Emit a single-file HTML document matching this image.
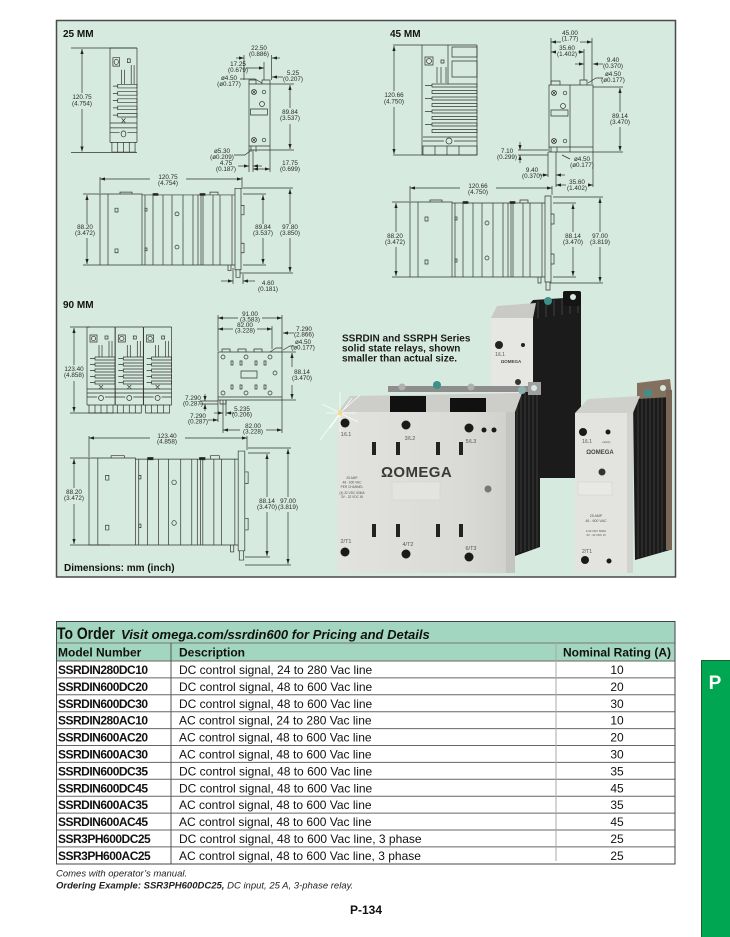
<!DOCTYPE html>
<html><head><meta charset="utf-8">
<style>
html,body{margin:0;padding:0;background:#fff;}
body{width:730px;height:937px;position:relative;overflow:hidden;}
svg{position:absolute;left:0;top:0;font-family:"Liberation Sans",Arial,sans-serif;}
.d{font-size:6.3px;fill:#2a2a2a;text-anchor:middle;}
.h{font-size:10px;font-weight:bold;fill:#111;}
.ln line,.ln path,.ln rect,.ln circle{vector-effect:non-scaling-stroke;}
#sv *,#fm *{vector-effect:non-scaling-stroke;}
.m{font-size:12px;font-weight:bold;fill:#111;letter-spacing:-0.5px;}
.s{font-size:12px;fill:#111;}
.r{font-size:12px;fill:#111;text-anchor:middle;}
.ph{font-size:5px;fill:#555;text-anchor:middle;}
</style></head><body>
<svg width="730" height="937" viewBox="0 0 730 937">
<defs>
<marker id="ar" markerUnits="userSpaceOnUse" markerWidth="6" markerHeight="4" refX="5" refY="2" orient="auto-start-reverse" viewBox="0 0 5 4"><path d="M0,0.4 L5,2 L0,3.6z" fill="#222"/></marker>
<linearGradient id="gface" x1="0" y1="0" x2="1" y2="0">
<stop offset="0" stop-color="#e2e2de"/><stop offset="0.7" stop-color="#dadad6"/><stop offset="1" stop-color="#cfcfcb"/>
</linearGradient>
<g id="sv" fill="none" stroke="#333" stroke-width="0.7">
<path d="M0,0 H42 V75 H0 Z M8,0 V75 M20,0 V-2 H32 V0 M42,1 H135 M42,75 H135 M45,1 V75 M53,1 V75 M63,1 V75 M72,1 V75 M83,1 V75 M93,1 V75 M98,1 V75 M101,1 V75 M103,1 V75 M113,1 V75 M120,1 V75 M132,1 V75 M135,-6 V80 H141 V-6 Z M141,12 h3 v10 h-3 M141,52 h3 v10 h-3 M136,80 v8 h4 v-8 M128,75 v6 h3 v-6 M110,1 V-2 H118 V1"/>
<rect x="15" y="15" width="3" height="4"/>
<rect x="15" y="58" width="3" height="4"/>
<circle cx="77" cy="21" r="2"/><circle cx="77" cy="56" r="2"/>
<path d="M45,15 h2 v3 h-2z M45,57 h2 v3 h-2z"/>
<rect x="53" y="-0.5" width="5" height="2" fill="#222"/><rect x="100" y="-0.5" width="5" height="2" fill="#222"/>
</g>
<g id="fm" fill="none" stroke="#333" stroke-width="0.7">
<path d="M0,0 H28 M0,0 V78 M28,0 V78"/>
<rect x="3" y="8" width="7" height="7"/><circle cx="6.5" cy="11.5" r="2.2"/>
<rect x="18" y="9" width="3" height="3"/>
<path d="M12,18 V30 M15,18 V30 M22,14 V30 M25,14 V30"/>
<path d="M8,30 h20 v3 h-20z M8,36 h20 v3 h-20z M8,42 h20 v3 h-20z M8,48 h20 v3 h-20z M8,54 h20 v3 h-20z"/>
<path d="M3,31.5 H8 M3,37.5 H8 M3,43.5 H8 M3,49.5 H8 M3,55.5 H8 M12,58 l4,4 M16,58 l-4,4"/>
<path d="M0,62 H28 M0,66 H28 M0,70 H10 M18,70 H28"/>
<circle cx="14" cy="71" r="2.5"/>
<path d="M0,78 H28 M2,78 V86 H26 V78 M8,78 V86 M14,78 V86 M20,78 V86"/>
</g>
</defs>

<!-- panel -->
<rect x="56.5" y="20.5" width="619" height="556.5" fill="#d6eadf" stroke="#4a4a4a" stroke-width="1.3"/>

<g class="ln" fill="none" stroke="#333" stroke-width="0.7">
<!-- ===== 25 MM ===== -->
<use href="#fm" transform="translate(110,48) scale(0.964,1.21)"/>
<line x1="71" y1="48" x2="137" y2="48"/><line x1="71" y1="152.5" x2="137" y2="152.5"/>
<line x1="82" y1="49" x2="82" y2="93" marker-start="url(#ar)"/><line x1="82" y1="109" x2="82" y2="151.5" marker-end="url(#ar)"/>

<rect x="249" y="84" width="21" height="66"/>
<path d="M249,84 V80 H256 V84 M262,84 V80 H270 V84"/>
<circle cx="254" cy="92" r="2.5"/><path d="M252.3,90.3 l3.4,3.4 M255.7,90.3 l-3.4,3.4"/>
<circle cx="264" cy="92" r="1.8"/><circle cx="262" cy="104" r="2.5"/>
<rect x="250.5" y="109" width="17" height="6"/>
<circle cx="254" cy="140" r="2.5"/><path d="M252.3,138.3 l3.4,3.4 M255.7,138.3 l-3.4,3.4"/>
<circle cx="264" cy="140" r="1.8"/>
<path d="M249,146 H270 M251,146 V152 M256,146 V152"/>
<line x1="236" y1="58" x2="244" y2="58" marker-end="url(#ar)"/><line x1="280" y1="58" x2="272" y2="58" marker-end="url(#ar)"/>
<line x1="244" y1="55" x2="244" y2="80"/><line x1="271.5" y1="55" x2="271.5" y2="80"/>
<line x1="246" y1="68" x2="264" y2="68" marker-end="url(#ar)"/><line x1="264" y1="62" x2="264" y2="80"/>
<path d="M240,79 H255 L262,83"/>
<line x1="283" y1="77" x2="272" y2="77" marker-end="url(#ar)"/>
<line x1="270" y1="84" x2="294" y2="84"/><line x1="270" y1="150" x2="294" y2="150"/>
<line x1="290" y1="85" x2="290" y2="108" marker-start="url(#ar)"/><line x1="290" y1="124" x2="290" y2="149" marker-end="url(#ar)"/>
<path d="M234,155 H245 L250,151"/>
<line x1="249" y1="150" x2="249" y2="172"/><line x1="253" y1="150" x2="253" y2="172"/><line x1="270" y1="150" x2="270" y2="172"/>
<line x1="238" y1="166" x2="249" y2="166" marker-end="url(#ar)"/><line x1="262" y1="166" x2="253" y2="166" marker-end="url(#ar)"/>
<line x1="253" y1="169" x2="270" y2="169" marker-start="url(#ar)" marker-end="url(#ar)"/>

<use href="#sv" transform="translate(100,194) scale(1,0.947)"/>
<line x1="100" y1="179" x2="150" y2="179" marker-start="url(#ar)"/><line x1="186" y1="179" x2="242" y2="179" marker-end="url(#ar)"/>
<line x1="100" y1="177" x2="100" y2="193"/><line x1="242" y1="177" x2="242" y2="189"/>
<line x1="87" y1="195" x2="87" y2="224" marker-start="url(#ar)"/><line x1="87" y1="238" x2="87" y2="264" marker-end="url(#ar)"/>
<line x1="83" y1="194" x2="100" y2="194"/><line x1="83" y1="265" x2="100" y2="265"/>
<line x1="243" y1="188" x2="293" y2="188"/><line x1="243" y1="194" x2="266" y2="194"/>
<line x1="243" y1="265" x2="266" y2="265"/><line x1="240" y1="273" x2="293" y2="273"/>
<line x1="263" y1="195" x2="263" y2="224" marker-start="url(#ar)"/><line x1="263" y1="238" x2="263" y2="264" marker-end="url(#ar)"/>
<line x1="290" y1="189" x2="290" y2="224" marker-start="url(#ar)"/><line x1="290" y1="238" x2="290" y2="272" marker-end="url(#ar)"/>
<line x1="233" y1="268" x2="233" y2="284"/><line x1="243" y1="274" x2="243" y2="284"/>
<line x1="221" y1="281" x2="233" y2="281" marker-end="url(#ar)"/><line x1="255" y1="281" x2="243" y2="281" marker-end="url(#ar)"/>

<!-- ===== 45 MM ===== -->
<line x1="393" y1="45" x2="477" y2="45"/><line x1="393" y1="155" x2="477" y2="155"/>
<line x1="394" y1="46" x2="394" y2="91" marker-start="url(#ar)"/><line x1="394" y1="107" x2="394" y2="154" marker-end="url(#ar)"/>
<path d="M422,45 V155 M448,45 V84 M477,45 V155"/>
<rect x="452" y="47" width="25" height="10"/><rect x="452" y="61" width="25" height="16"/>
<rect x="425" y="57" width="8" height="8"/><circle cx="429" cy="61" r="2.5"/><rect x="441" y="60" width="3" height="3"/>
<path d="M437,67 V83 M441,67 V83 M446,67 V83"/>
<path d="M432,84 h45 v3 h-45z M432,90.5 h45 v3 h-45z M432,97 h45 v3 h-45z M432,103.5 h45 v3 h-45z M432,110 h45 v3 h-45z M432,116.5 h45 v3 h-45z M432,123 h45 v3 h-45z M432,129.5 h45 v3 h-45z"/>
<path d="M425,85.5 H432 M425,98.5 H432 M425,111.5 H432 M425,124.5 H432"/>
<path d="M423,137 H477 M423,141 H444 M454,141 H477"/><circle cx="449" cy="141" r="3"/>
<rect x="423" y="146" width="54" height="9"/><path d="M435,146 V155 M447,146 V155 M459,146 V155"/>

<rect x="549" y="85" width="44" height="67"/><line x1="570" y1="85" x2="570" y2="152"/>
<path d="M551,85 V81 H560 V85 M580,85 V80 H587 V85"/>
<circle cx="554" cy="93" r="2.5"/><path d="M552.3,91.3 l3.4,3.4 M555.7,91.3 l-3.4,3.4"/><circle cx="565" cy="93" r="1.8"/>
<circle cx="563" cy="106" r="2.5"/><rect x="551" y="110" width="17" height="6"/>
<circle cx="554" cy="141" r="2.5"/><path d="M552.3,139.3 l3.4,3.4 M555.7,139.3 l-3.4,3.4"/><circle cx="565" cy="141" r="1.8"/>
<path d="M549,147 H593 M551,147 V152 M557,147 V152"/>
<line x1="551" y1="42" x2="561" y2="42" marker-start="url(#ar)"/><line x1="580" y1="42" x2="592" y2="42" marker-end="url(#ar)"/>
<line x1="551" y1="38" x2="551" y2="84"/><line x1="592" y1="38" x2="592" y2="84"/>
<line x1="551" y1="52" x2="556" y2="52" marker-start="url(#ar)"/><line x1="578" y1="52" x2="584" y2="52" marker-end="url(#ar)"/>
<line x1="584" y1="49" x2="584" y2="80"/>
<line x1="603" y1="64" x2="593" y2="64" marker-end="url(#ar)"/><line x1="575" y1="64" x2="584" y2="64" marker-end="url(#ar)"/>
<path d="M603,78 H596 L588,83"/>
<line x1="593" y1="87" x2="623" y2="87"/><line x1="593" y1="152" x2="623" y2="152"/>
<line x1="620" y1="88" x2="620" y2="112" marker-start="url(#ar)"/><line x1="620" y1="127" x2="620" y2="151" marker-end="url(#ar)"/>
<line x1="518" y1="150" x2="548" y2="150"/><line x1="518" y1="155" x2="548" y2="155"/>
<line x1="520" y1="142" x2="520" y2="150" marker-end="url(#ar)"/><line x1="520" y1="163" x2="520" y2="155" marker-end="url(#ar)"/>
<path d="M570,159 L562,155"/>
<line x1="548" y1="152" x2="548" y2="177"/><line x1="556" y1="152" x2="556" y2="187"/><line x1="593" y1="152" x2="593" y2="187"/>
<line x1="539" y1="175" x2="548" y2="175" marker-end="url(#ar)"/><line x1="565" y1="175" x2="556" y2="175" marker-end="url(#ar)"/>
<line x1="556" y1="185" x2="566" y2="185" marker-start="url(#ar)"/><line x1="588" y1="185" x2="593" y2="185" marker-end="url(#ar)"/>

<use href="#sv" transform="translate(410,202)"/>
<line x1="410" y1="188" x2="460" y2="188" marker-start="url(#ar)"/><line x1="496" y1="188" x2="552" y2="188" marker-end="url(#ar)"/>
<line x1="410" y1="186" x2="410" y2="201"/><line x1="552" y1="186" x2="552" y2="195"/>
<line x1="396" y1="203" x2="396" y2="232" marker-start="url(#ar)"/><line x1="396" y1="247" x2="396" y2="276" marker-end="url(#ar)"/>
<line x1="392" y1="202" x2="410" y2="202"/><line x1="392" y1="277" x2="410" y2="277"/>
<line x1="553" y1="197" x2="603" y2="197"/><line x1="553" y1="203" x2="576" y2="203"/>
<line x1="553" y1="277" x2="576" y2="277"/><line x1="550" y1="283" x2="603" y2="283"/>
<line x1="573" y1="204" x2="573" y2="232" marker-start="url(#ar)"/><line x1="573" y1="247" x2="573" y2="276" marker-end="url(#ar)"/>
<line x1="600" y1="198" x2="600" y2="232" marker-start="url(#ar)"/><line x1="600" y1="247" x2="600" y2="282" marker-end="url(#ar)"/>

<!-- ===== 90 MM ===== -->
<use href="#fm" transform="translate(87,327)"/>
<use href="#fm" transform="translate(115.3,327)"/>
<use href="#fm" transform="translate(143.6,327)"/>
<line x1="70" y1="327" x2="90" y2="327"/><line x1="70" y1="413" x2="118" y2="413"/>
<line x1="74" y1="328" x2="74" y2="365" marker-start="url(#ar)"/><line x1="74" y1="381" x2="74" y2="412" marker-end="url(#ar)"/>

<rect x="218" y="352" width="64" height="48"/>
<path d="M222,352 V349 H230 V352 M238,352 V349 H246 V352 M254,352 V349 H262 V352 M270,352 L276,348 H282 V352"/>
<circle cx="223" cy="357" r="2"/><circle cx="246" cy="357" r="2"/><circle cx="270" cy="357" r="2"/>
<rect x="231" y="361" width="2" height="4"/><rect x="240" y="361" width="2" height="4"/><rect x="255" y="361" width="2" height="4"/><rect x="264" y="361" width="2" height="4"/>
<rect x="241" y="371" width="16" height="7"/><circle cx="275" cy="373" r="2"/>
<rect x="231" y="385" width="2" height="4"/><rect x="240" y="385" width="2" height="4"/><rect x="255" y="385" width="2" height="4"/><rect x="264" y="385" width="2" height="4"/>
<circle cx="223" cy="393" r="2"/><circle cx="246" cy="393" r="2"/><circle cx="270" cy="393" r="2"/>
<path d="M218,397 H282 M220,400 V404 H226 V400"/>
<line x1="218" y1="318" x2="238" y2="318" marker-start="url(#ar)"/><line x1="262" y1="318" x2="282" y2="318" marker-end="url(#ar)"/>
<line x1="218" y1="315" x2="218" y2="351"/><line x1="282" y1="315" x2="282" y2="348"/>
<line x1="218" y1="329" x2="233" y2="329" marker-start="url(#ar)"/><line x1="257" y1="329" x2="272" y2="329" marker-end="url(#ar)"/>
<line x1="272" y1="326" x2="272" y2="349"/>
<line x1="294" y1="333" x2="283" y2="333" marker-end="url(#ar)"/>
<path d="M294,346 H290 L283,350"/>
<line x1="282" y1="352" x2="296" y2="352"/><line x1="282" y1="400" x2="296" y2="400"/>
<line x1="292" y1="353" x2="292" y2="367" marker-start="url(#ar)"/><line x1="292" y1="385" x2="292" y2="399" marker-end="url(#ar)"/>
<line x1="200" y1="401" x2="218" y2="401"/><line x1="200" y1="404" x2="218" y2="404"/>
<line x1="205" y1="394" x2="205" y2="401" marker-end="url(#ar)"/><line x1="205" y1="411" x2="205" y2="404" marker-end="url(#ar)"/>
<line x1="218" y1="400" x2="218" y2="422"/><line x1="223" y1="400" x2="223" y2="433"/><line x1="226" y1="400" x2="226" y2="416"/>
<line x1="214" y1="413" x2="223" y2="413" marker-end="url(#ar)"/><line x1="234" y1="413" x2="226" y2="413" marker-end="url(#ar)"/>
<line x1="208" y1="420" x2="218" y2="420" marker-end="url(#ar)"/>
<line x1="282" y1="400" x2="282" y2="433"/>
<line x1="223" y1="430" x2="240" y2="430" marker-start="url(#ar)"/><line x1="266" y1="430" x2="282" y2="430" marker-end="url(#ar)"/>

<use href="#sv" transform="translate(89,458) scale(1.105,1.16)"/>
<line x1="89" y1="438" x2="150" y2="438" marker-start="url(#ar)"/><line x1="185" y1="438" x2="247" y2="438" marker-end="url(#ar)"/>
<line x1="89" y1="436" x2="89" y2="457"/><line x1="247" y1="436" x2="247" y2="450"/>
<line x1="74" y1="459" x2="74" y2="488" marker-start="url(#ar)"/><line x1="74" y1="504" x2="74" y2="544" marker-end="url(#ar)"/>
<line x1="70" y1="458" x2="89" y2="458"/><line x1="70" y1="545" x2="110" y2="545"/>
<line x1="248" y1="448" x2="291" y2="448"/><line x1="248" y1="453" x2="270" y2="453"/>
<line x1="245" y1="557" x2="270" y2="557"/><line x1="245" y1="565" x2="291" y2="565"/>
<line x1="267" y1="454" x2="267" y2="497" marker-start="url(#ar)"/><line x1="267" y1="512" x2="267" y2="556" marker-end="url(#ar)"/>
<line x1="288" y1="449" x2="288" y2="497" marker-start="url(#ar)"/><line x1="288" y1="512" x2="288" y2="564" marker-end="url(#ar)"/>
</g>

<!-- dimension labels -->
<g>
<text class="h" x="63" y="37">25 MM</text>
<text class="h" x="390" y="37">45 MM</text>
<text class="h" x="63" y="308">90 MM</text>
<text class="d" x="82" y="99">120.75</text><text class="d" x="82" y="105.5">(4.754)</text>
<text class="d" x="259" y="50">22.50</text><text class="d" x="259" y="56">(0.886)</text>
<text class="d" x="238" y="66">17.25</text><text class="d" x="238" y="72">(0.679)</text>
<text class="d" x="229" y="80">ø4.50</text><text class="d" x="229" y="86">(ø0.177)</text>
<text class="d" x="293" y="75">5.25</text><text class="d" x="293" y="81">(0.207)</text>
<text class="d" x="290" y="114">89.84</text><text class="d" x="290" y="120">(3.537)</text>
<text class="d" x="222" y="153">ø5.30</text><text class="d" x="222" y="159">(ø0.209)</text>
<text class="d" x="226" y="165">4.75</text><text class="d" x="226" y="171">(0.187)</text>
<text class="d" x="290" y="165">17.75</text><text class="d" x="290" y="171">(0.699)</text>
<text class="d" x="168" y="179">120.75</text><text class="d" x="168" y="185">(4.754)</text>
<text class="d" x="85" y="229">88.20</text><text class="d" x="85" y="235">(3.472)</text>
<text class="d" x="263" y="229">89.84</text><text class="d" x="263" y="235">(3.537)</text>
<text class="d" x="290" y="229">97.80</text><text class="d" x="290" y="235">(3.850)</text>
<text class="d" x="268" y="285">4.60</text><text class="d" x="268" y="291">(0.181)</text>

<text class="d" x="394" y="97">120.66</text><text class="d" x="394" y="103.5">(4.750)</text>
<text class="d" x="570" y="35">45.00</text><text class="d" x="570" y="40.5">(1.77)</text>
<text class="d" x="567" y="50">35.60</text><text class="d" x="567" y="56">(1.402)</text>
<text class="d" x="613" y="62">9.40</text><text class="d" x="613" y="68">(0.370)</text>
<text class="d" x="613" y="76">ø4.50</text><text class="d" x="613" y="82">(ø0.177)</text>
<text class="d" x="620" y="118">89.14</text><text class="d" x="620" y="124">(3.470)</text>
<text class="d" x="507" y="153">7.10</text><text class="d" x="507" y="159">(0.299)</text>
<text class="d" x="582" y="161">ø4.50</text><text class="d" x="582" y="167">(ø0.177)</text>
<text class="d" x="532" y="172">9.40</text><text class="d" x="532" y="178">(0.370)</text>
<text class="d" x="577" y="184">35.60</text><text class="d" x="577" y="190">(1.402)</text>
<text class="d" x="478" y="188">120.66</text><text class="d" x="478" y="194">(4.750)</text>
<text class="d" x="395" y="238">88.20</text><text class="d" x="395" y="244">(3.472)</text>
<text class="d" x="573" y="238">88.14</text><text class="d" x="573" y="244">(3.470)</text>
<text class="d" x="600" y="238">97.00</text><text class="d" x="600" y="244">(3.819)</text>

<text class="d" x="74" y="371">123.40</text><text class="d" x="74" y="377">(4.858)</text>
<text class="d" x="250" y="316">91.00</text><text class="d" x="250" y="321.5">(3.583)</text>
<text class="d" x="245" y="327">82.00</text><text class="d" x="245" y="332.5">(3.228)</text>
<text class="d" x="304" y="331">7.290</text><text class="d" x="304" y="336.5">(2.866)</text>
<text class="d" x="303" y="344">ø4.50</text><text class="d" x="303" y="349.5">(ø0.177)</text>
<text class="d" x="302" y="374">88.14</text><text class="d" x="302" y="380">(3.470)</text>
<text class="d" x="193" y="400">7.290</text><text class="d" x="193" y="405.5">(0.287)</text>
<text class="d" x="242" y="411">5.235</text><text class="d" x="242" y="416.5">(0.206)</text>
<text class="d" x="198" y="418">7.290</text><text class="d" x="198" y="423.5">(0.287)</text>
<text class="d" x="253" y="428">82.00</text><text class="d" x="253" y="433.5">(3.228)</text>
<text class="d" x="167" y="438">123.40</text><text class="d" x="167" y="443.5">(4.858)</text>
<text class="d" x="74" y="494">88.20</text><text class="d" x="74" y="500">(3.472)</text>
<text class="d" x="267" y="503">88.14</text><text class="d" x="267" y="509">(3.470)</text>
<text class="d" x="288" y="503">97.00</text><text class="d" x="288" y="509">(3.819)</text>
<text x="64" y="571" font-size="10" font-weight="bold" fill="#111">Dimensions: mm (inch)</text>
</g>

<!-- photo caption -->
<g font-size="10" font-weight="bold" fill="#1a1a1a">
<text x="342" y="341.5">SSRDIN and SSRPH Series</text>
<text x="342" y="351.5">solid state relays, shown</text>
<text x="342" y="361.5">smaller than actual size.</text>
</g>

<!-- ===== PHOTO ===== -->
<!-- tall back relay -->
<polygon points="528,306 533,300 581,297 581,478 532,478" fill="#1b1b1b"/>
<path d="M538,301 V318 M546,300 V317 M554,300 V316 M562,299 V315 M570,299 V314 M578,298 V313" stroke="#4a4a4a" stroke-width="0.8"/>
<rect x="563" y="291" width="18" height="15" rx="2" fill="#151515"/>
<circle cx="573" cy="297" r="3" fill="#d6eadf"/>
<circle cx="548" cy="301" r="4" fill="#3f8f8a"/>
<polygon points="491,318 497,306 536,303 533,318" fill="#c9c9c5"/>
<rect x="491" y="318" width="42" height="80" fill="#e6e6e2"/>
<circle cx="499" cy="345" r="4" fill="#222"/>
<circle cx="523" cy="345" r="2" fill="#222"/>
<text x="500" y="356" class="ph">1/L1</text>
<text x="511" y="363" font-size="4.5" font-weight="bold" fill="#444" text-anchor="middle">ΩOMEGA</text>
<circle cx="518" cy="382" r="3" fill="#333"/>

<!-- big relay -->
<polygon points="512,398 537,386 540,386 540,547 515,556" fill="#1a1a1a"/>
<path d="M517,396 V553 M521,394 V552 M525,392 V551 M529,390 V550 M533,389 V549 M537,387 V548" stroke="#454545" stroke-width="0.8"/>
<polygon points="338,412 350,396 522,393 515,412" fill="#cdcdc9"/>
<rect x="388" y="386" width="152" height="6" fill="#8d8d8d"/>
<circle cx="402" cy="387" r="3.5" fill="#b0b0b0"/>
<circle cx="437" cy="385" r="4" fill="#3f8f8a"/>
<circle cx="471" cy="387" r="3.5" fill="#b0b0b0"/>
<rect x="528" y="382" width="13" height="13" fill="#a0a0a0"/>
<circle cx="534" cy="388" r="3" fill="#d6eadf"/>
<circle cx="522" cy="390" r="4" fill="#8fb0b0"/>
<rect x="390" y="396" width="36" height="17" fill="#111"/>
<rect x="450" y="398" width="36" height="15" fill="#111"/>
<rect x="337" y="412" width="178" height="161" fill="url(#gface)"/>
<rect x="506" y="412" width="9" height="161" fill="#c4c4c0"/>
<circle cx="345" cy="423" r="4.5" fill="#1a1a1a"/>
<circle cx="406" cy="425" r="4.5" fill="#1a1a1a"/>
<circle cx="469" cy="428" r="4.5" fill="#1a1a1a"/>
<circle cx="484" cy="430" r="2.5" fill="#1a1a1a"/>
<circle cx="494" cy="430" r="2.5" fill="#1a1a1a"/>
<g font-size="5.5" fill="#555" text-anchor="middle">
<text x="346" y="436">1/L1</text><text x="410" y="440">3/L2</text><text x="471" y="443">5/L3</text>
<text x="346" y="543">2/T1</text><text x="408" y="546">4/T2</text><text x="471" y="550">6/T3</text>
</g>
<g fill="#222">
<rect x="372" y="442" width="4" height="13"/><rect x="396" y="442" width="4" height="13"/><rect x="436" y="442" width="4" height="13"/><rect x="459" y="442" width="4" height="13"/>
<rect x="372" y="524" width="4" height="13"/><rect x="396" y="524" width="4" height="13"/><rect x="436" y="524" width="4" height="13"/><rect x="459" y="524" width="4" height="13"/>
</g>
<text x="381" y="477" font-size="15" font-weight="bold" fill="#3a3a3a" letter-spacing="0.4">ΩOMEGA</text>
<g font-size="3.2" fill="#555" text-anchor="middle">
<text x="352" y="479">25 AMP</text><text x="352" y="483.5">48 - 600 VAC</text><text x="352" y="488">PER CHANNEL</text>
<text x="352" y="494">(4) 32 VDC 50MA</text><text x="352" y="498">3V - 32 VDC IN</text>
</g>
<rect x="392" y="482" width="48" height="18" fill="#e3e3df" stroke="#cfcfcb" stroke-width="0.5"/>
<circle cx="488" cy="489" r="3.5" fill="#777"/>
<circle cx="345" cy="552" r="4.5" fill="#1a1a1a"/>
<circle cx="406" cy="554" r="4.5" fill="#1a1a1a"/>
<circle cx="469" cy="557" r="4.5" fill="#1a1a1a"/>
<!-- sparkle -->
<g stroke="#ffffff" stroke-width="0.8" opacity="0.9">
<line x1="322" y1="404" x2="358" y2="422"/><line x1="330" y1="428" x2="352" y2="398"/>
<line x1="340" y1="392" x2="340" y2="432"/><line x1="326" y1="413" x2="356" y2="413"/>
<line x1="340" y1="413" x2="320" y2="440"/><line x1="340" y1="413" x2="360" y2="395"/>
</g>
<circle cx="340" cy="413" r="2.5" fill="#f3dd8a"/>

<!-- small right relay -->
<polygon points="633,400 668,388 670,388 670,550 635,560" fill="#1a1a1a"/>
<path d="M638,398 V558 M642,397 V557 M646,395 V556 M650,394 V555 M654,393 V554 M658,391 V553 M662,390 V552" stroke="#454545" stroke-width="0.8"/>
<polygon points="637,383 670,379 672,397 637,399" fill="#84705e"/>
<circle cx="663" cy="388" r="3" fill="#d6eadf"/>
<rect x="666" y="390" width="6" height="160" fill="#7a6656"/>
<circle cx="648" cy="393" r="4" fill="#3f8f8a"/>
<polygon points="575,413 588,399 640,396 633,413" fill="#cfcfcb"/>
<rect x="575" y="413" width="58" height="160" fill="#e3e3df"/>
<rect x="627" y="413" width="6" height="160" fill="#d2d2ce"/>
<circle cx="583" cy="432" r="4" fill="#1a1a1a"/>
<circle cx="608" cy="432" r="2.5" fill="#1a1a1a"/>
<text x="587" y="443" class="ph">1/L1</text>
<text x="606" y="443" font-size="3" fill="#555" text-anchor="middle">+3(A1)</text>
<text x="600" y="454" font-size="6" font-weight="bold" fill="#444" text-anchor="middle">ΩOMEGA</text>
<circle cx="602" cy="472" r="3.5" fill="#333"/>
<rect x="578" y="482" width="34" height="13" fill="#e8e8e4" stroke="#d0d0cc" stroke-width="0.5"/>
<g font-size="3.6" fill="#555" text-anchor="middle">
<text x="596" y="517">25 AMP</text><text x="596" y="522">48 - 600 VAC</text>
<text x="596" y="532" font-size="2.8">4-32 VDC 50MA</text><text x="596" y="536" font-size="2.8">3V - 32 VDC IN</text>
</g>
<text x="587" y="553" class="ph">2/T1</text>
<circle cx="585" cy="560" r="4" fill="#1a1a1a"/>
<circle cx="609" cy="561" r="2.5" fill="#1a1a1a"/>
<!-- redraw panel border on top -->
<rect x="56.5" y="20.5" width="619" height="556.5" fill="none" stroke="#4a4a4a" stroke-width="1.3"/>

<!-- ===== TABLE ===== -->
<rect x="56.5" y="621.5" width="618.5" height="242.5" fill="#fff"/>
<rect x="56.5" y="621.5" width="618.5" height="39.5" fill="#a3d6c0"/>
<g stroke="#666" stroke-width="1">
<line x1="56" y1="643" x2="675" y2="643" stroke="#777"/>
<line x1="56" y1="661" x2="675" y2="661"/>
<line x1="56" y1="677.9" x2="675" y2="677.9"/>
<line x1="56" y1="694.8" x2="675" y2="694.8"/>
<line x1="56" y1="711.7" x2="675" y2="711.7"/>
<line x1="56" y1="728.6" x2="675" y2="728.6"/>
<line x1="56" y1="745.5" x2="675" y2="745.5"/>
<line x1="56" y1="762.4" x2="675" y2="762.4"/>
<line x1="56" y1="779.3" x2="675" y2="779.3"/>
<line x1="56" y1="796.2" x2="675" y2="796.2"/>
<line x1="56" y1="813.1" x2="675" y2="813.1"/>
<line x1="56" y1="830" x2="675" y2="830"/>
<line x1="56" y1="846.9" x2="675" y2="846.9"/>
<line x1="171" y1="643" x2="171" y2="864" stroke="#555"/>
<line x1="556" y1="643" x2="556" y2="861" stroke="#aaa"/>
</g>
<rect x="56.5" y="621.5" width="618.5" height="242.5" fill="none" stroke="#444" stroke-width="1"/>

<text transform="translate(57,639) scale(0.82,1)" font-size="17" font-weight="bold" fill="#111">To Order</text>
<text x="121" y="639" font-size="13" font-weight="bold" font-style="italic" fill="#111">Visit omega.com/ssrdin600 for Pricing and Details</text>
<text x="58" y="656.5" font-size="12" font-weight="bold" fill="#111">Model Number</text>
<text x="179" y="656.5" font-size="12" font-weight="bold" fill="#111">Description</text>
<text x="617" y="656.5" font-size="12" font-weight="bold" fill="#111" text-anchor="middle">Nominal Rating (A)</text>

<g>
<text class="m" x="58" y="674">SSRDIN280DC10</text><text class="s" x="179" y="674">DC control signal, 24 to 280 Vac line</text><text class="r" x="617" y="674">10</text>
<text class="m" x="58" y="690.9">SSRDIN600DC20</text><text class="s" x="179" y="690.9">DC control signal, 48 to 600 Vac line</text><text class="r" x="617" y="690.9">20</text>
<text class="m" x="58" y="707.8">SSRDIN600DC30</text><text class="s" x="179" y="707.8">DC control signal, 48 to 600 Vac line</text><text class="r" x="617" y="707.8">30</text>
<text class="m" x="58" y="724.7">SSRDIN280AC10</text><text class="s" x="179" y="724.7">AC control signal, 24 to 280 Vac line</text><text class="r" x="617" y="724.7">10</text>
<text class="m" x="58" y="741.6">SSRDIN600AC20</text><text class="s" x="179" y="741.6">AC control signal, 48 to 600 Vac line</text><text class="r" x="617" y="741.6">20</text>
<text class="m" x="58" y="758.5">SSRDIN600AC30</text><text class="s" x="179" y="758.5">AC control signal, 48 to 600 Vac line</text><text class="r" x="617" y="758.5">30</text>
<text class="m" x="58" y="775.4">SSRDIN600DC35</text><text class="s" x="179" y="775.4">DC control signal, 48 to 600 Vac line</text><text class="r" x="617" y="775.4">35</text>
<text class="m" x="58" y="792.3">SSRDIN600DC45</text><text class="s" x="179" y="792.3">DC control signal, 48 to 600 Vac line</text><text class="r" x="617" y="792.3">45</text>
<text class="m" x="58" y="809.2">SSRDIN600AC35</text><text class="s" x="179" y="809.2">AC control signal, 48 to 600 Vac line</text><text class="r" x="617" y="809.2">35</text>
<text class="m" x="58" y="826.1">SSRDIN600AC45</text><text class="s" x="179" y="826.1">AC control signal, 48 to 600 Vac line</text><text class="r" x="617" y="826.1">45</text>
<text class="m" x="58" y="843">SSR3PH600DC25</text><text class="s" x="179" y="843">DC control signal, 48 to 600 Vac line, 3 phase</text><text class="r" x="617" y="843">25</text>
<text class="m" x="58" y="859.9">SSR3PH600AC25</text><text class="s" x="179" y="859.9">AC control signal, 48 to 600 Vac line, 3 phase</text><text class="r" x="617" y="859.9">25</text>
</g>

<text x="56" y="876.5" font-size="9.5" font-style="italic" fill="#222">Comes with operator’s manual.</text>
<text x="56" y="888.5" font-size="9.5" font-style="italic" fill="#222"><tspan font-weight="bold">Ordering Example: SSR3PH600DC25,</tspan> DC input, 25 A, 3-phase relay.</text>

<text x="366" y="914" font-size="12" font-weight="bold" fill="#111" text-anchor="middle">P-134</text>

<!-- green tab -->
<rect x="701" y="660" width="29" height="277" fill="#00a651"/>
<path d="M701.5,937 V660.5 H730" fill="none" stroke="#1d5c35" stroke-width="1"/>
<text x="715" y="689" font-size="19" font-weight="bold" fill="#fff" text-anchor="middle">P</text>
</svg>
</body></html>
